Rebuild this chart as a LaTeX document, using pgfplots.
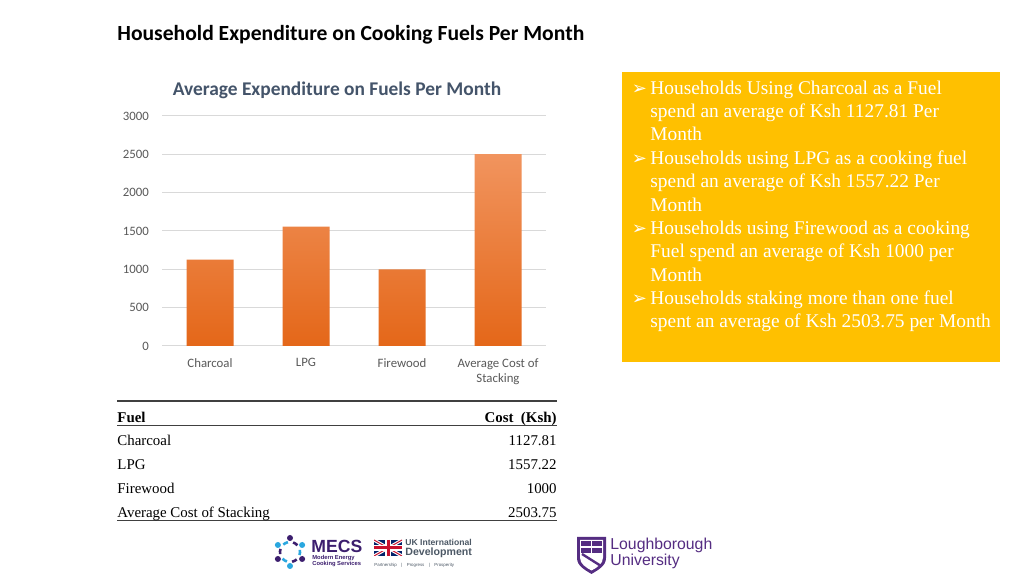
\documentclass[border=0pt]{standalone}
\usepackage{pgfplots}
\pgfplotsset{compat=1.18}
\usepackage{fontspec}
\setmainfont{Liberation Serif}
\newfontfamily\carlito{Carlito}
\newfontfamily\lsans{Liberation Sans}
\newfontfamily\dejavu{DejaVu Sans}
\definecolor{bartop}{RGB}{241,148,94}
\definecolor{barbot}{RGB}{228,103,25}
\definecolor{gridgray}{RGB}{217,217,217}
\definecolor{ticktext}{RGB}{89,89,89}
\definecolor{charttitle}{RGB}{68,84,106}
\definecolor{boxyellow}{RGB}{255,192,0}
\definecolor{mecsblue}{RGB}{42,167,223}
\definecolor{mecspurple}{RGB}{60,30,110}
\definecolor{ukblue}{RGB}{1,33,105}
\definecolor{ukred}{RGB}{200,16,46}
\definecolor{ukgray}{RGB}{77,89,102}
\definecolor{lboro}{RGB}{85,45,130}
\begin{document}
\begin{tikzpicture}
\begin{scope}[x=0.5pt,y=-0.5pt,yshift=291pt]
\fill[white] (0,0) rectangle (1024,582);
% main title
\node[anchor=west, inner sep=0pt, font=\carlito\bfseries\fontsize{10.8}{12}\selectfont] at (117,35) {Household Expenditure on Cooking Fuels Per Month};
% chart title
\node[inner sep=0pt, font=\carlito\bfseries\fontsize{9.7}{11}\selectfont, text=charttitle] at (337,90) {Average Expenditure on Fuels Per Month};
% yellow box
\fill[boxyellow] (622,72) rectangle (1000,362);
\begin{scope}[every node/.style={anchor=base west, inner sep=0pt, text=white, font=\fontsize{9.7}{11}\selectfont}]
\node at (650,94.3) {Households Using Charcoal as a Fuel};
\node at (650,117.7) {spend an average of Ksh 1127.81 Per};
\node at (650,141.0) {Month};
\node at (650,164.4) {Households using LPG as a cooking fuel};
\node at (650,187.7) {spend an average of Ksh 1557.22 Per};
\node at (650,211.1) {Month};
\node at (650,234.4) {Households using Firewood as a cooking};
\node at (650,257.8) {Fuel spend an average of Ksh 1000 per};
\node at (650,281.1) {Month};
\node at (650,304.5) {Households staking more than one fuel};
\node at (650,327.8) {spent an average of Ksh 2503.75 per Month};
\node[font=\dejavu\fontsize{9}{11}\selectfont] at (631.5,94.3) {➢};
\node[font=\dejavu\fontsize{9}{11}\selectfont] at (631.5,164.4) {➢};
\node[font=\dejavu\fontsize{9}{11}\selectfont] at (631.5,234.4) {➢};
\node[font=\dejavu\fontsize{9}{11}\selectfont] at (631.5,304.5) {➢};
\end{scope}
% table
\draw[line width=1pt, black!75] (117,401) -- (557,401);
\draw[line width=0.6pt, black!75] (117,425.7) -- (557,425.7);
\draw[line width=0.6pt, black!75] (117,520.7) -- (557,520.7);
\begin{scope}[every node/.style={inner sep=0pt, font=\fontsize{7.45}{9}\selectfont}]
\node[anchor=base west, font=\bfseries\fontsize{7.45}{9}\selectfont] at (117,422.3) {Fuel};
\node[anchor=base east, font=\bfseries\fontsize{7.45}{9}\selectfont] at (557,422.3) {Cost~~(Ksh)};
\node[anchor=base west] at (117,446) {Charcoal};
\node[anchor=base east] at (557,446) {1127.81};
\node[anchor=base west] at (117,470) {LPG};
\node[anchor=base east] at (557,470) {1557.22};
\node[anchor=base west] at (117,494) {Firewood};
\node[anchor=base east] at (557,494) {1000};
\node[anchor=base west] at (117,517.7) {Average Cost of Stacking};
\node[anchor=base east] at (557,517.7) {2503.75};
\end{scope}
% MECS logo
\foreach \a/\c in {90/mecsblue,150/mecspurple,210/mecsblue,270/mecspurple,330/mecsblue,30/mecspurple}{
  \fill[\c] ([shift={(\a:14)}]290,552) circle (3);
  \draw[\c, line width=1.3pt] ([shift={(\a+18:10)}]290,552) arc[start angle=\a+18, end angle=\a+48, radius=10];
}
\node[anchor=west, inner sep=0pt, text=mecspurple, font=\lsans\bfseries\fontsize{8.8}{10}\selectfont] at (311,546) {MECS};
\node[anchor=west, inner sep=0pt, text=mecspurple, font=\lsans\bfseries\fontsize{2.9}{3.5}\selectfont] at (312,558) {Modern Energy};
\node[anchor=west, inner sep=0pt, text=mecspurple, font=\lsans\bfseries\fontsize{2.9}{3.5}\selectfont] at (312,564.5) {Cooking Services};
% UK flag
\begin{scope}
\clip (374,540) rectangle (402,556);
\fill[ukblue] (374,540) rectangle (402,556);
\draw[white, line width=1.6pt] (374,540) -- (402,556) (374,556) -- (402,540);
\draw[ukred, line width=0.5pt] (374,540) -- (402,556) (374,556) -- (402,540);
\draw[white, line width=2.6pt] (388,540) -- (388,556) (374,548) -- (402,548);
\draw[ukred, line width=1.5pt] (388,540) -- (388,556) (374,548) -- (402,548);
\end{scope}
\node[anchor=west, inner sep=0pt, text=ukgray, font=\lsans\bfseries\fontsize{4.3}{5}\selectfont] at (405,542.5) {UK International};
\node[anchor=west, inner sep=0pt, text=ukgray, font=\lsans\bfseries\fontsize{5.3}{6}\selectfont] at (405,553) {Development};
\node[anchor=west, inner sep=0pt, text=ukgray, font=\lsans\fontsize{2.2}{3}\selectfont] at (374,565) {Partnership\quad|\quad Progress\quad|\quad Prosperity};
% Loughborough shield
\fill[lboro] (577,537) -- (606,537) -- (606,558) .. controls (606,566) and (598,570) .. (591.5,574) .. controls (585,570) and (577,566) .. (577,558) -- cycle;
\fill[white] (580,540) -- (603,540) -- (603,557.5) .. controls (603,564) and (597,567.5) .. (591.5,570.5) .. controls (586,567.5) and (580,564) .. (580,557.5) -- cycle;
\fill[lboro] (581,541) rectangle (602,553);
\draw[white, line width=0.6pt] (591.5,541) -- (591.5,553) (581,547) -- (602,547);
\draw[lboro, line width=1.2pt] (582,554) -- (601,566);
\node[anchor=west, inner sep=0pt, text=lboro, font=\lsans\fontsize{7.9}{9}\selectfont] at (610,545) {Loughborough};
\node[anchor=west, inner sep=0pt, text=lboro, font=\lsans\fontsize{7.9}{9}\selectfont] at (610,561.5) {University};
\end{scope}
\begin{axis}[
  at={(81pt,118pt)}, anchor=south west, scale only axis,
  width=192pt, height=115pt,
  xmin=-0.5, xmax=3.5, ymin=0, ymax=3000,
  xtick={0,1,2,3},
  xticklabels={Charcoal,LPG,Firewood,{Average Cost of\\Stacking}},
  ytick={0,500,...,3000},
  ymajorgrids, grid style={draw=gridgray, line width=0.5pt},
  axis line style={draw=none}, tick style={draw=none},
  ticklabel style={font=\carlito\fontsize{6.4}{7.6}\selectfont, text=ticktext},
  xticklabel style={align=center, yshift=-2.8pt},
  yticklabel style={xshift=-3pt},
  /pgf/number format/assume math mode=true,
  /pgf/number format/1000 sep={},
  clip=false,
]
\addplot[ybar, bar width=23.5pt, draw=none, top color=bartop, bottom color=barbot] coordinates {(0,1127.81) (1,1557.22) (2,1000) (3,2503.75)};
\end{axis}
\end{tikzpicture}
\end{document}
